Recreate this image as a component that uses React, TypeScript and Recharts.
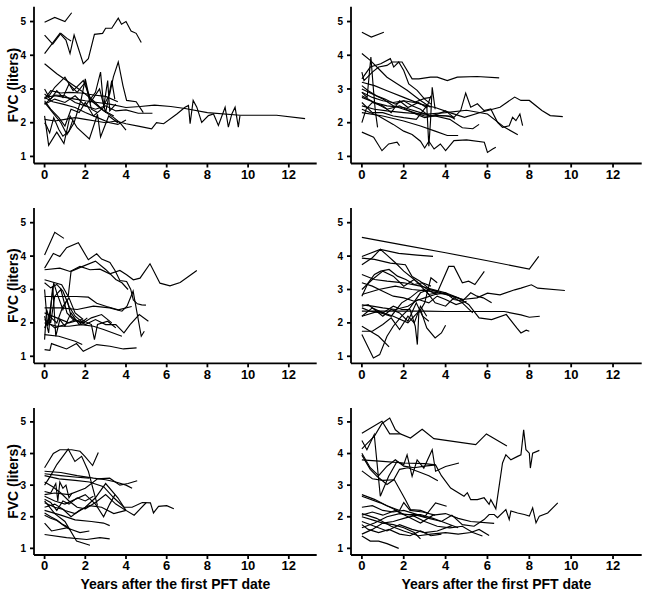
import { LineChart, Line, XAxis, YAxis } from 'recharts'

type Pt = [number, number]

const xTicks = [0, 2, 4, 6, 8, 10, 12]
const yTicks = [1, 2, 3, 4, 5]
const xTitle = 'Years after the first PFT date'
const yTitle = 'FVC (liters)'

// top-left panel
const panelA: Pt[][] = [
  [[0, 4.98], [0.5, 5.12], [1.0, 5.0], [1.33, 5.26]],
  [[0, 4.6], [0.4, 4.33], [0.8, 4.65], [1.1, 4.5], [1.3, 4.42]],
  [[0, 4.05], [0.75, 4.65], [1.05, 4.45], [1.25, 4.05], [1.45, 4.6], [1.9, 3.75], [2.15, 3.9], [2.45, 4.62], [2.85, 4.65], [3.0, 4.8], [3.3, 4.8], [3.62, 5.1], [3.78, 4.92], [4.0, 5.0], [4.25, 4.72], [4.5, 4.65], [4.75, 4.38]],
  [[0, 3.75], [0.6, 3.45], [1.2, 3.2], [1.8, 2.95], [2.4, 2.65], [2.9, 2.35], [3.4, 2.15], [3.7, 2.0], [4.0, 1.78]],
  [[0, 2.55], [0.5, 2.7], [1.0, 2.6], [1.5, 2.8], [2.0, 2.5], [2.5, 2.9], [2.75, 3.5], [2.9, 2.5], [3.2, 2.85], [3.38, 3.36], [3.62, 3.8], [3.85, 3.1], [4.03, 2.66], [4.5, 2.62], [4.85, 2.3]],
  [[0, 2.1], [0.5, 2.05], [1.0, 2.1], [1.5, 2.15], [2.0, 2.1], [2.5, 2.05], [3.0, 2.0], [3.5, 2.05], [4.0, 1.97], [4.6, 1.9], [5.26, 1.82], [5.5, 2.0], [5.85, 1.97], [6.5, 2.26], [6.9, 2.46], [7.07, 2.51], [7.15, 1.97], [7.3, 2.66], [7.48, 2.46], [7.72, 2.01], [8.05, 2.21], [8.3, 2.26], [8.54, 1.92], [8.87, 2.46], [9.03, 1.87], [9.2, 2.26], [9.36, 2.46], [9.52, 1.87], [9.6, 2.21]],
  [[0, 2.75], [0.5, 2.8], [1.0, 2.75], [1.5, 2.7], [2.0, 2.65], [2.6, 2.6], [3.2, 2.55], [4.0, 2.45], [4.7, 2.48], [5.4, 2.52], [6.2, 2.48], [6.9, 2.42], [8.0, 2.3], [9.6, 2.22], [11.4, 2.22], [12.8, 2.12]],
  [[0, 2.2], [0.2, 1.33], [0.6, 1.72], [0.95, 1.38], [1.25, 2.2], [1.6, 1.85], [2.2, 1.52], [2.6, 2.25], [2.75, 1.58], [3.15, 2.2], [3.6, 2.0]],
  [[0, 2.6], [0.4, 2.3], [0.8, 2.0], [1.1, 1.65], [1.45, 2.0], [1.8, 2.7], [2.0, 3.3], [2.25, 2.6], [2.7, 3.0], [3.0, 2.3], [3.3, 3.25], [3.45, 2.7]],
  [[0, 2.7], [0.3, 2.95], [0.8, 2.88], [1.2, 2.9], [1.8, 2.88], [2.4, 2.82], [3.0, 2.78], [3.6, 2.62]],
  [[0, 3.0], [0.2, 2.78], [0.5, 3.05], [1.0, 3.35], [1.4, 2.95], [1.9, 3.25], [2.3, 2.65], [2.8, 2.4], [3.4, 2.2]],
  [[0, 2.75], [0.4, 2.62], [0.9, 2.55], [1.5, 2.45], [2.0, 2.3], [2.6, 2.15], [3.2, 2.0], [3.6, 1.95], [4.0, 2.08]],
  [[0, 2.55], [0.5, 2.82], [1.0, 2.8], [1.5, 2.6], [2.0, 2.5], [2.5, 2.4], [3.0, 2.5], [3.5, 2.35], [4.0, 2.38], [4.6, 2.28], [5.3, 2.28]],
  [[0, 2.65], [0.3, 2.4], [0.7, 2.15], [1.0, 1.9], [1.3, 2.4], [1.7, 2.3], [2.0, 2.6], [2.4, 2.2], [2.9, 2.45], [3.1, 3.25], [3.2, 2.35], [3.5, 2.55]],
  [[0, 2.85], [0.3, 2.7], [0.6, 2.95], [0.9, 2.75], [1.2, 3.15], [1.6, 2.9], [2.0, 3.2], [2.3, 2.4], [2.6, 2.3]],
  [[0, 2.0], [0.1, 1.9], [0.25, 1.7], [0.45, 2.15], [0.7, 1.8], [0.9, 1.6], [1.2, 1.75], [1.4, 2.1]],
]

// top-right panel
const panelB: Pt[][] = [
  [[0, 4.68], [0.45, 4.54], [1.05, 4.68]],
  [[0, 4.05], [0.4, 3.85], [0.8, 3.6], [1.2, 3.35], [1.7, 3.15], [2.16, 2.96], [2.8, 2.66], [3.28, 2.46]],
  [[0, 2.9], [0.25, 2.75], [0.43, 3.95], [0.55, 3.0], [0.64, 2.36], [0.75, 1.86]],
  [[0, 3.3], [0.4, 3.65], [0.9, 3.75], [1.36, 3.9], [1.52, 3.65], [1.76, 3.8], [2.0, 3.55], [2.24, 3.15], [2.64, 2.96], [3.0, 2.7], [3.3, 2.55]],
  [[0, 3.5], [0.1, 3.25], [0.5, 3.5], [0.8, 3.65], [1.2, 3.7], [1.44, 3.8], [1.92, 3.8], [2.4, 3.3], [2.72, 3.3], [3.28, 3.35], [3.6, 3.35], [4.08, 3.25], [4.56, 3.35], [5.5, 3.37], [6.56, 3.33]],
  [[0, 3.2], [0.6, 3.1], [1.2, 2.95], [2.0, 2.75], [2.8, 2.55], [3.5, 2.45], [4.2, 2.3], [4.9, 2.16], [5.7, 2.31], [6.6, 2.46], [7.3, 2.76], [7.6, 2.66], [8.0, 2.66], [8.6, 2.36], [9.0, 2.21], [9.6, 2.18]],
  [[0, 2.5], [0.6, 2.4], [1.2, 2.35], [2.0, 2.3], [3.0, 2.25], [4.0, 2.3], [5.0, 2.37], [6.0, 2.26], [6.8, 1.87], [7.45, 1.64]],
  [[0, 2.75], [0.6, 2.6], [1.2, 2.5], [2.0, 2.45], [2.8, 2.3], [3.4, 2.2], [4.0, 2.2], [4.4, 2.16], [4.72, 2.36], [4.96, 2.88], [5.2, 2.46], [5.52, 2.56], [5.84, 2.36], [6.16, 2.41], [6.48, 2.01], [6.72, 1.86], [7.04, 1.91], [7.2, 2.16], [7.36, 2.06], [7.55, 2.26], [7.68, 1.91]],
  [[0, 1.72], [0.56, 1.57], [0.96, 1.17], [1.28, 1.37], [1.68, 1.42], [1.8, 1.32]],
  [[0, 2.4], [0.8, 2.2], [1.5, 1.95], [2.0, 1.75], [2.4, 1.65], [2.8, 1.45], [3.0, 1.25], [3.2, 1.45], [3.45, 1.22], [3.75, 1.37], [4.0, 1.17], [4.4, 1.47], [5.0, 1.49], [5.85, 1.42], [6.0, 1.12], [6.25, 1.22], [6.4, 1.27]],
  [[0, 2.3], [1, 2.2], [2, 2.05], [2.8, 1.9], [3.5, 1.75], [4.08, 1.62], [4.6, 1.62]],
  [[0, 2.9], [0.5, 2.75], [1.0, 2.65], [1.5, 2.6], [2.0, 2.65], [2.5, 2.6], [3.0, 2.72], [3.3, 2.75]],
  [[0, 3.0], [0.5, 2.85], [1.0, 2.7], [1.5, 2.5], [2.0, 2.4], [2.5, 2.3], [3.0, 2.2], [3.5, 2.2], [4.2, 2.1], [4.8, 1.85], [5.3, 1.82], [5.6, 1.95]],
  [[0, 2.8], [0.6, 2.6], [1.2, 2.4], [1.8, 2.5], [2.4, 2.3], [3.0, 2.15], [3.6, 2.22], [4.2, 2.2], [4.45, 2.1]],
  [[0, 2.6], [0.5, 2.3], [1.0, 2.3], [1.5, 2.2], [2.0, 2.15], [2.6, 2.1], [3.1, 2.5], [3.2, 1.3], [3.28, 2.06], [3.36, 3.05], [3.5, 2.4]],
  [[0, 2.0], [0.2, 2.4], [0.5, 2.6], [1.0, 2.5], [1.4, 2.3], [1.8, 2.65], [2.2, 2.45], [2.7, 2.6], [3.1, 2.45], [3.3, 2.8]],
  [[0, 3.1], [0.3, 2.95], [0.7, 2.8], [1.1, 2.7], [1.6, 2.55], [2.0, 2.65], [2.4, 2.5], [2.8, 2.4], [3.2, 2.2], [3.6, 2.25], [4.0, 2.35], [4.4, 2.15]],
]

// middle-left panel
const panelC: Pt[][] = [
  [[0, 4.03], [0.5, 4.71], [0.95, 4.53]],
  [[0, 3.64], [0.43, 4.08], [0.75, 3.99], [1.08, 4.25], [1.66, 4.4], [2.15, 3.89], [2.56, 4.07], [2.8, 3.91], [3.21, 3.81], [3.46, 3.57], [3.7, 3.27], [4.03, 3.24], [4.23, 3.01], [4.36, 2.69], [4.56, 2.57], [4.77, 2.54], [4.98, 2.53]],
  [[0, 3.59], [0.75, 3.64], [1.25, 3.54], [1.74, 3.69], [2.23, 3.59], [2.72, 3.61], [3.2, 3.47], [3.7, 3.57], [4.03, 3.44], [4.36, 3.29], [4.69, 3.34], [5.18, 3.77], [5.67, 3.19], [6.16, 3.11], [6.66, 3.21], [7.07, 3.39], [7.48, 3.57]],
  [[0, 3.29], [0.84, 3.14], [1.16, 2.79], [1.3, 3.54], [1.9, 3.7], [2.5, 3.85], [3.0, 3.6], [3.5, 3.3], [3.8, 3.2], [4.1, 3.0]],
  [[0, 2.79], [0.75, 2.79], [1.57, 2.79], [2.15, 2.77], [2.56, 2.59], [3.05, 2.49], [3.62, 2.39], [4.28, 2.49]],
  [[0, 2.45], [0.8, 2.45], [1.6, 2.4], [2.4, 2.5], [3.2, 2.45], [3.8, 2.35], [4.05, 2.5], [4.35, 2.95], [4.75, 1.6], [4.9, 1.75]],
  [[0, 2.1], [0.5, 1.85], [1.0, 1.95], [1.5, 2.1], [2.0, 1.95], [2.5, 2.1], [3.0, 1.95], [3.5, 1.95], [3.9, 1.7], [4.2, 1.95], [4.65, 2.25], [5.1, 2.05]],
  [[0, 1.2], [0.26, 1.18], [0.34, 1.38], [1.08, 1.22], [1.57, 1.38], [1.9, 1.15], [2.56, 1.35], [3.21, 1.3], [3.87, 1.22], [4.52, 1.25]],
  [[0, 1.65], [0.7, 1.6], [1.5, 1.45], [1.85, 1.35]],
  [[0, 2.0], [0.6, 1.9], [1.2, 1.9], [1.8, 1.95], [2.4, 1.9], [2.9, 1.8], [3.8, 1.6]],
  [[0, 3.0], [0.15, 1.9], [0.3, 2.5], [0.45, 3.2], [0.6, 2.9], [0.9, 2.4], [1.1, 2.7], [1.3, 2.2], [1.6, 2.05], [2.0, 2.0]],
  [[0, 2.2], [0.2, 1.7], [0.4, 3.1], [0.55, 1.6], [0.75, 2.1], [1.0, 1.9], [1.3, 2.3], [1.7, 1.95], [2.1, 2.15]],
  [[0, 1.5], [0.1, 2.4], [0.3, 2.0], [0.5, 2.8], [0.8, 3.0], [1.1, 2.3], [1.4, 2.1], [1.8, 2.0]],
  [[0, 2.3], [0.6, 2.15], [1.2, 2.0], [1.8, 2.1], [2.3, 1.95], [2.45, 1.5], [2.6, 1.95], [3.1, 2.05], [3.5, 1.85]],
  [[0, 3.2], [0.3, 3.05], [0.6, 3.15], [0.9, 2.95], [1.2, 2.5], [1.5, 2.2], [1.9, 2.0], [2.3, 2.15], [2.8, 2.25], [3.3, 2.0]],
  [[0, 1.85], [0.25, 2.2], [0.6, 2.0], [0.9, 2.5], [1.2, 2.75], [1.5, 2.3], [1.9, 2.1]],
]

// middle-right panel
const panelD: Pt[][] = [
  [[0, 4.56], [2, 4.33], [4, 4.1], [6, 3.86], [8, 3.61], [8.45, 3.99]],
  [[0, 3.99], [0.88, 4.2], [1.76, 4.08], [2.64, 4.03], [3.4, 3.99]],
  [[0, 3.74], [0.5, 3.95], [0.88, 4.2], [1.2, 4.03], [1.6, 3.8], [2.0, 3.55], [2.5, 3.3], [2.9, 3.1], [3.28, 2.94], [3.6, 2.85]],
  [[0, 3.94], [0.6, 3.9], [1.36, 3.79], [2.08, 3.74], [2.4, 3.39], [2.8, 3.24], [3.28, 2.99], [3.8, 2.9], [4.4, 2.79], [4.88, 2.69]],
  [[0, 3.0], [0.5, 3.3], [1.0, 3.55], [1.5, 3.4], [2.0, 3.1], [2.5, 3.3], [3.2, 2.85], [3.6, 2.9], [4.15, 3.69], [4.4, 3.69], [4.8, 3.2], [5.1, 3.25], [5.4, 3.15], [5.85, 3.54]],
  [[0, 3.45], [0.6, 3.3], [1.2, 3.25], [2.0, 3.2], [2.8, 3.1], [3.4, 3.0], [4.0, 2.9], [4.6, 2.75], [5.1, 2.55], [5.6, 2.15], [6.2, 2.1], [6.9, 2.25], [7.4, 1.85], [7.6, 1.7], [7.85, 1.78], [8.0, 1.75]],
  [[0, 2.85], [0.8, 3.0], [1.6, 3.1], [2.4, 3.0], [3.2, 2.95], [4.0, 2.85], [4.8, 2.7], [5.5, 2.75], [6.0, 2.89], [6.6, 2.84], [7.3, 2.99], [7.6, 3.04], [8.1, 3.14], [8.4, 3.04], [9.7, 2.97]],
  [[0, 2.35], [1, 2.35], [2, 2.35], [3, 2.35], [4, 2.34], [5, 2.34], [6.8, 2.34], [7.6, 2.24], [8.0, 2.17], [8.5, 2.2]],
  [[0, 2.54], [0.5, 2.5], [1.0, 2.45], [1.6, 2.4], [2.2, 2.5], [2.7, 2.7], [3.2, 2.6], [3.6, 2.8], [4.0, 2.7], [4.5, 2.55], [5.0, 2.65]],
  [[0, 1.9], [0.4, 1.75], [0.8, 1.6], [1.3, 1.28]],
  [[0, 1.65], [0.55, 0.95], [0.85, 1.05], [1.2, 1.6], [1.5, 1.9], [1.9, 2.2], [2.3, 2.45], [2.8, 2.9], [3.2, 3.0], [3.6, 2.95]],
  [[0, 2.2], [0.5, 2.45], [1.0, 2.3], [1.5, 2.5], [1.9, 2.4], [2.3, 2.4], [2.55, 1.9], [2.65, 1.35], [2.72, 2.3], [3.0, 2.6], [3.3, 3.35], [3.6, 3.2]],
  [[0, 2.2], [0.8, 2.35], [1.5, 2.2], [2.2, 2.0], [2.8, 2.4], [3.1, 1.85], [3.5, 1.55], [3.8, 1.7], [4.0, 1.93]],
  [[0, 1.75], [0.5, 1.75], [1.0, 1.95], [1.4, 2.15], [1.8, 1.8], [2.2, 2.2], [2.5, 2.0], [2.8, 2.5], [3.1, 2.2]],
  [[0, 2.5], [0.3, 2.55], [0.6, 2.4], [1.0, 2.2], [1.4, 2.4], [1.8, 2.3], [2.2, 2.05], [2.6, 2.6], [2.9, 2.2], [3.2, 2.05]],
  [[0, 2.8], [0.3, 3.2], [0.6, 3.45], [0.9, 3.55], [1.3, 3.6], [1.7, 3.4], [2.1, 3.3], [2.5, 3.15], [2.9, 3.2], [3.3, 3.1]],
  [[0, 3.2], [0.5, 3.1], [1.0, 2.95], [1.5, 2.8], [2.0, 2.75], [2.5, 2.65], [3.0, 2.75], [3.5, 2.85], [4.0, 2.9], [4.4, 2.7], [4.8, 2.65], [5.2, 2.9], [5.5, 2.8], [5.8, 2.75], [6.2, 2.6]],
  [[0, 2.45], [0.4, 2.35], [0.9, 2.3], [1.4, 2.2], [1.9, 2.6], [2.3, 2.75], [2.7, 2.95], [3.0, 3.0], [3.5, 2.6], [4.0, 2.5], [4.4, 2.75], [4.8, 2.6], [5.3, 2.3]],
]

// bottom-left panel
const panelE: Pt[][] = [
  [[0, 3.55], [0.43, 4.0], [0.75, 4.12], [1.33, 4.12], [1.74, 4.07], [1.98, 3.91], [2.36, 3.62], [2.64, 4.03]],
  [[0, 3.0], [0.3, 3.3], [0.6, 3.65], [1.16, 4.14], [1.49, 3.75], [1.82, 3.91], [2.15, 3.44], [2.39, 2.86], [2.6, 2.35]],
  [[0, 3.44], [0.8, 3.4], [1.6, 3.3], [2.4, 3.22], [3.0, 3.17], [3.5, 3.1], [4.0, 3.0], [4.3, 2.9]],
  [[0, 3.36], [0.8, 3.3], [1.6, 3.25], [2.2, 3.22]],
  [[0, 2.7], [0.5, 2.75], [1.2, 2.7], [2.0, 2.9], [2.6, 3.2], [3.2, 3.22], [3.7, 3.0], [4.1, 3.05], [4.55, 3.14]],
  [[0, 3.3], [0.7, 3.2], [1.5, 3.15], [2.2, 3.1], [2.9, 2.95], [3.4, 2.6], [3.9, 2.3], [4.3, 2.3], [4.8, 2.45], [5.2, 2.44], [5.35, 2.12], [5.6, 2.33], [6.0, 2.35], [6.35, 2.25]],
  [[0, 2.3], [0.5, 2.4], [1.0, 2.2], [1.5, 2.1], [2.0, 2.3], [2.5, 2.6], [3.0, 3.05], [3.6, 2.6], [4.0, 2.2], [4.4, 2.05], [5.0, 2.45]],
  [[0, 2.65], [0.5, 2.5], [1.0, 2.4], [1.5, 2.55], [2.0, 2.7], [2.5, 2.4], [2.9, 2.0], [3.2, 2.4], [3.46, 2.7]],
  [[0, 2.8], [0.3, 2.75], [0.55, 3.05], [0.65, 2.5], [0.75, 3.1], [0.9, 2.9], [1.05, 3.0], [1.2, 2.6], [1.35, 2.75]],
  [[0, 2.12], [0.3, 2.0], [0.6, 1.9], [0.9, 1.75], [1.08, 1.7], [1.25, 1.6]],
  [[0, 2.05], [0.3, 1.95], [0.6, 1.88], [1.0, 1.7], [1.3, 1.58]],
  [[0, 2.44], [0.5, 2.3], [0.92, 2.23], [1.3, 2.0], [1.7, 2.2], [2.2, 2.35], [2.8, 2.3], [3.4, 2.1], [4.0, 2.2]],
  [[0, 1.8], [0.34, 1.55], [1.08, 1.65], [1.74, 1.5], [2.2, 1.55]],
  [[0, 1.44], [1.08, 1.34], [2.07, 1.28], [2.72, 1.34], [3.2, 1.3]],
  [[0, 2.5], [0.5, 2.1], [1.0, 1.85], [1.57, 1.23], [2.23, 1.1]],
  [[0, 2.2], [0.8, 2.05], [1.5, 1.9], [2.3, 1.85], [2.9, 1.8], [3.2, 1.72]],
  [[0, 3.1], [0.4, 2.95], [0.8, 2.75], [1.2, 2.5], [1.6, 2.3], [2.0, 2.25], [2.5, 2.45], [3.0, 2.7], [3.5, 2.4], [4.0, 2.2]],
  [[0, 2.55], [0.3, 2.45], [0.6, 2.2], [0.9, 2.5], [1.2, 2.4], [1.6, 2.6], [2.0, 2.5], [2.4, 2.65]],
]

// bottom-right panel
const panelF: Pt[][] = [
  [[0, 4.64], [0.96, 5.02], [1.33, 4.62], [1.84, 4.62], [2.32, 4.49], [2.88, 4.77], [3.44, 4.47], [5.44, 4.28], [5.95, 4.62], [6.93, 4.24]],
  [[0, 4.15], [0.3, 4.35], [0.6, 4.55], [0.96, 4.95], [1.33, 5.12], [1.6, 4.75], [1.84, 4.62]],
  [[0, 4.41], [0.24, 4.12], [0.59, 4.6], [0.88, 2.65], [1.28, 3.28], [1.68, 3.75], [2.0, 3.65], [2.16, 3.96], [2.4, 3.28], [2.64, 3.8], [2.96, 3.54], [3.36, 4.12], [3.52, 3.44], [4.0, 3.59], [4.64, 3.7]],
  [[0, 3.8], [1.0, 3.75], [2.0, 3.7], [3.0, 3.68], [3.52, 3.64]],
  [[0, 3.95], [0.4, 3.5], [0.72, 3.28], [1.2, 3.02], [1.52, 3.17], [1.8, 3.5], [2.2, 3.55], [2.8, 3.4], [3.2, 3.3], [3.63, 3.14]],
  [[0, 4.01], [0.4, 3.55], [0.8, 3.3], [1.2, 3.6], [1.6, 3.8], [2.0, 3.6], [2.5, 3.55], [3.0, 3.6], [3.52, 3.64], [3.8, 3.3], [4.24, 2.91], [4.88, 2.65], [5.04, 2.76], [5.2, 2.54], [5.52, 2.54], [5.84, 2.6], [6.08, 2.39], [6.16, 2.54], [6.4, 2.25], [6.72, 3.7], [6.88, 3.96], [7.12, 3.8], [7.44, 3.91], [7.6, 3.96], [7.73, 4.75], [7.84, 4.12], [8.0, 4.01], [8.05, 3.54], [8.16, 4.01], [8.48, 4.1]],
  [[0, 3.45], [0.5, 3.2], [1.0, 3.15], [1.55, 3.17], [2.08, 2.54], [2.32, 2.23], [2.8, 2.2], [3.2, 2.1]],
  [[0, 2.0], [0.5, 1.9], [1.0, 1.8], [1.5, 1.85], [2.0, 1.95], [2.6, 2.05], [3.2, 1.95], [3.8, 1.85], [4.3, 2.05], [4.8, 1.75], [5.36, 1.7], [5.84, 1.91], [6.08, 2.07], [6.32, 2.07], [6.48, 1.97], [6.88, 2.23], [7.04, 1.91], [7.12, 2.18], [7.44, 2.12], [7.76, 2.07], [8.0, 2.02], [8.16, 2.28], [8.32, 1.81], [8.48, 2.02], [8.88, 2.12], [9.36, 2.44]],
  [[0, 2.65], [0.88, 2.44], [1.5, 2.25], [2.0, 2.07], [2.8, 2.07], [3.4, 1.95], [4.0, 1.8], [4.6, 1.65]],
  [[0, 1.39], [0.4, 1.23], [0.8, 1.23], [1.2, 1.15], [1.76, 1.0]],
  [[0, 2.3], [0.5, 2.35], [1.0, 2.2], [1.5, 2.15], [2.0, 2.2], [2.5, 2.1], [3.0, 2.0], [3.52, 2.44], [4.05, 2.33]],
  [[0, 1.85], [0.6, 1.7], [1.2, 1.55], [1.8, 1.75], [2.4, 1.6], [3.0, 1.5], [3.6, 1.55], [4.3, 1.72]],
  [[0, 1.45], [0.5, 1.6], [1.0, 1.8], [1.5, 1.75], [2.0, 1.65], [2.5, 1.5], [2.8, 1.3]],
  [[0, 1.65], [0.6, 1.8], [1.2, 2.0], [1.8, 2.1], [2.4, 2.05], [3.0, 1.85], [3.6, 1.7], [4.2, 1.65], [4.8, 1.7], [5.3, 1.5], [5.76, 1.39]],
  [[0, 2.1], [0.7, 1.95], [1.4, 1.7], [2.0, 1.55], [2.7, 1.4], [3.3, 1.45], [4.0, 1.5], [4.6, 1.45], [5.2, 1.5], [5.6, 1.6], [6.08, 1.41]],
  [[0, 2.05], [0.5, 2.15], [1.0, 2.05], [1.6, 2.2], [2.2, 2.0], [2.8, 1.8], [3.4, 2.05], [4.0, 2.1], [4.6, 1.95], [5.2, 1.85], [6.32, 1.79]],
  [[0, 1.75], [0.3, 1.6], [0.8, 1.5], [1.3, 1.6], [1.8, 1.45], [2.3, 1.4], [2.8, 1.55], [3.3, 1.4], [3.8, 1.45]],
  [[0, 2.7], [0.6, 2.55], [1.2, 2.35], [1.8, 2.2], [2.0, 2.45], [2.3, 2.2], [2.9, 2.15], [3.5, 2.05]],
]

const axisStyle = { stroke: '#000', strokeWidth: 1.8 }

type PanelProps = {
  lines: Pt[][]
  left: number
  top: number
  height: number
  yWidth: number
  marginTop: number
  marginRight: number
  xHeight: number
  bottomRow?: boolean
  leftCol?: boolean
}

function Panel({ lines, left, top, height, yWidth, marginTop, marginRight, xHeight, bottomRow, leftCol }: PanelProps) {
  return (
    <div style={{ position: 'absolute', left, top }}>
      <LineChart width={324} height={height} margin={{ top: marginTop, right: marginRight, bottom: 0, left: 0 }}>
        <XAxis
          type="number"
          dataKey="x"
          domain={[-0.52, 13.37]}
          ticks={xTicks}
          interval={0}
          allowDataOverflow
          height={xHeight}
          tickSize={4}
          tickMargin={2}
          axisLine={axisStyle}
          tickLine={axisStyle}
          tick={{ fill: '#000', fontSize: 13, fontWeight: 700 }}
          label={bottomRow ? { value: xTitle, position: 'insideBottom', offset: 6, style: { fill: '#000', fontSize: 14, fontWeight: 700 } } : undefined}
        />
        <YAxis
          type="number"
          domain={[0.79, 5.44]}
          ticks={yTicks}
          interval={0}
          allowDataOverflow
          width={yWidth}
          tickSize={4}
          tickMargin={4}
          axisLine={axisStyle}
          tickLine={axisStyle}
          tick={{ fill: '#000', fontSize: 10, fontWeight: 700 }}
          label={leftCol ? { value: yTitle, angle: -90, position: 'insideLeft', offset: 13, style: { textAnchor: 'middle', fill: '#000', fontSize: 14, fontWeight: 700 } } : undefined}
        />
        {lines.map((pts, i) => (
          <Line
            key={i}
            data={pts.map(([x, y]) => ({ x, y }))}
            dataKey="y"
            type="linear"
            stroke="#000"
            strokeWidth={1.15}
            dot={false}
            activeDot={false}
            isAnimationActive={false}
          />
        ))}
      </LineChart>
    </div>
  )
}

export default function App() {
  return (
    <div style={{ position: 'relative', width: 648, height: 595, background: '#fff', fontFamily: '"Liberation Sans", Arial, sans-serif' }}>
      <style>{'body{margin:0}'}</style>
      <Panel lines={panelA} left={0} top={0} height={200} yWidth={34} marginTop={6.7} marginRight={7.3} xHeight={36.5} leftCol />
      <Panel lines={panelB} left={324} top={0} height={200} yWidth={27} marginTop={6.7} marginRight={6.3} xHeight={36.5} />
      <Panel lines={panelC} left={0} top={200} height={200} yWidth={34} marginTop={8} marginRight={7.3} xHeight={36.7} leftCol />
      <Panel lines={panelD} left={324} top={200} height={200} yWidth={27} marginTop={8} marginRight={6.3} xHeight={36.7} />
      <Panel lines={panelE} left={0} top={400} height={195} yWidth={34} marginTop={8} marginRight={7.3} xHeight={40} leftCol bottomRow />
      <Panel lines={panelF} left={324} top={400} height={195} yWidth={27} marginTop={8} marginRight={6.3} xHeight={40} bottomRow />
    </div>
  )
}
